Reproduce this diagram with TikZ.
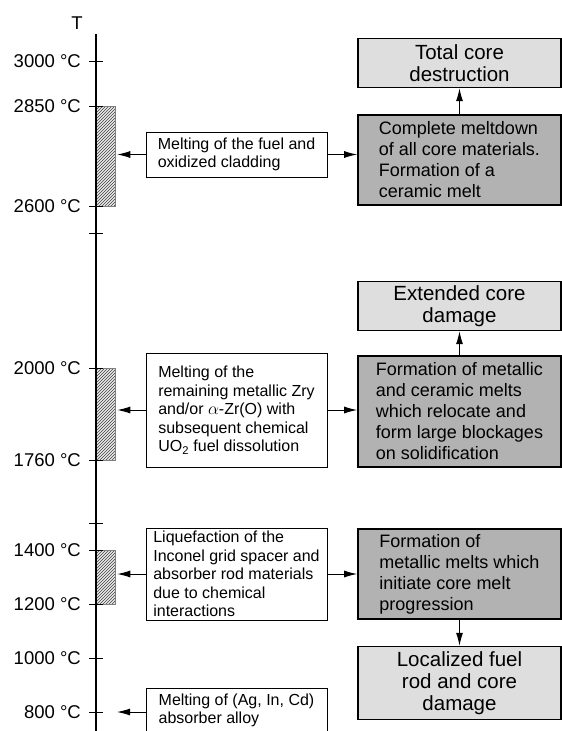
\documentclass[tikz,border=0pt]{standalone}
\usepackage{fontspec}
\setmainfont{Liberation Sans}
\usepackage{tikz}
\usetikzlibrary{arrows.meta,positioning,patterns}
\tikzstyle{lbox}=[draw=black, line width=0.9pt, fill=white, align=left, inner xsep=4pt, inner ysep=4pt, minimum width=181pt, font=\fontsize{16}{18.5}\selectfont]
\tikzstyle{mbox}=[draw=black, line width=1.6pt, fill=black!30, align=left, inner xsep=4pt, inner ysep=0pt, minimum width=203pt, font=\fontsize{18}{21}\selectfont]
\tikzstyle{obox}=[draw=black, line width=1.6pt, fill=black!13, align=center, inner xsep=4pt, inner ysep=0pt, minimum width=203pt, font=\fontsize{20.5}{22}\selectfont]
\tikzstyle{tlab}=[anchor=east, inner sep=0pt, font=\fontsize{18.5}{20}\selectfont]
\tikzstyle{hbar}=[draw=black!50, line width=0.5pt, pattern=north east lines, pattern color=black!75, preaction={fill=black!8}, minimum width=19pt, inner sep=0pt]
\tikzstyle{arr}=[-{Latex[length=13pt,width=7pt]}, line width=1pt]

\begin{document}
\begin{tikzpicture}[x=1pt, y=-1pt]
\useasboundingbox (0,0) rectangle (562,731);
\clip (0,0) rectangle (562,731);
%
  \node[hbar, minimum height=100pt] (b1) at (105.5,156) {};
  \node[hbar, minimum height=92pt] (b2) at (105.5,414) {};
  \node[hbar, minimum height=54pt] (b3) at (105.5,577) {};
%
  \draw[line width=1.3pt] (96,34) -- (96,731);
  \node[inner sep=0pt, font=\fontsize{18.5}{20}\selectfont] (tt) at (77,23) {T};
%
  \node[tlab] (t3000) at (81,61) {3000 °C};
  \node[tlab] (t2850) at (81,106) {2850 °C};
  \node[tlab] (t2600) at (81,206) {2600 °C};
  \node[tlab] (t2000) at (81,368) {2000 °C};
  \node[tlab] (t1760) at (81,460) {1760 °C};
  \node[tlab] (t1400) at (81,550) {1400 °C};
  \node[tlab] (t1200) at (81,604) {1200 °C};
  \node[tlab] (t1000) at (81,658) {1000 °C};
  \node[tlab] (t800) at (81,712) {800 °C};
%
  \draw[line width=1pt] (89,61) -- (103,61);
  \draw[line width=1pt] (89,106) -- (103,106);
  \draw[line width=1pt] (89,206) -- (103,206);
  \draw[line width=1pt] (89,233) -- (103,233);
  \draw[line width=1pt] (89,368) -- (103,368);
  \draw[line width=1pt] (89,460) -- (103,460);
  \draw[line width=1pt] (89,523) -- (103,523);
  \draw[line width=1pt] (89,550) -- (103,550);
  \draw[line width=1pt] (89,604) -- (103,604);
  \draw[line width=1pt] (89,658) -- (103,658);
  \draw[line width=1pt] (89,712) -- (103,712);
%
  \node[lbox, minimum height=45pt] (l1) at (236.5,154.5) {Melting of the fuel and\\oxidized cladding};
  \node[lbox, minimum height=114pt] (l2) at (236.5,410) {Melting of the\\remaining metallic Zry\\and/or $\alpha$-Zr(O) with\\subsequent chemical\\UO\textsubscript{2} fuel dissolution};
  \node[lbox, minimum height=92pt, inner ysep=0pt] (l3) at (236.5,574) {Liquefaction of the\\Inconel grid spacer and\\absorber rod materials\\due to chemical\\interactions};
  \node[lbox, anchor=north, inner ysep=5pt] (l4) at (236.5,688) {Melting of (Ag, In, Cd)\\absorber alloy\\\mbox{}};
  \coordinate (c800) at (117,712);
%
  \node[mbox, minimum height=90pt] (r2) at (459.5,160) {Complete meltdown\\of all core materials.\\Formation of a\\ceramic melt};
  \node[obox, minimum height=49pt] (r1) [above = 26pt of r2] {Total core\\destruction};
  \node[mbox, minimum height=111pt] (r4) at (459.5,411.5) {Formation of metallic\\and ceramic melts\\which relocate and\\form large blockages\\on solidification};
  \node[obox, minimum height=49pt] (r3) [above = 24pt of r4] {Extended core\\damage};
  \node[mbox, minimum height=90pt] (r5) at (459.5,574) {Formation of\\metallic melts which\\initiate core melt\\progression};
  \node[obox, minimum height=73pt] (r6) [below = 26pt of r5] {Localized fuel\\rod and core\\damage};
%
  \draw[arr, shorten >=2pt] (l1.west) -- (l1.west -| b1.east);
  \draw[arr, shorten >=2pt] (l2.west) -- (l2.west -| b2.east);
  \draw[arr, shorten >=2pt] (l3.west) -- (l3.west -| b3.east);
  \draw[arr] (l4.west |- c800) -- (c800);
%
  \draw[arr] (l1.east) -- (l1.east -| r2.west);
  \draw[arr] (l2.east) -- (l2.east -| r4.west);
  \draw[arr] (l3.east) -- (l3.east -| r5.west);
%
  \draw[arr] (r2.north) -- (r1.south);
  \draw[arr] (r4.north) -- (r3.south);
  \draw[arr] (r5.south) -- (r6.north);
\end{tikzpicture}
\end{document}
